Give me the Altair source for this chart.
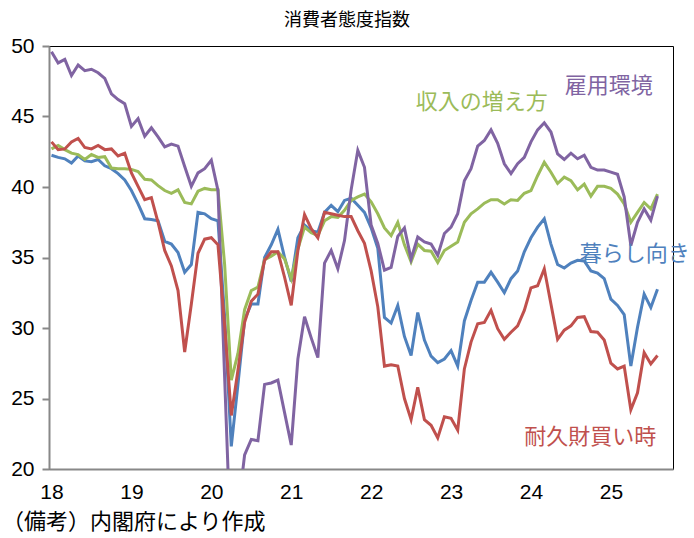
import json
import altair as alt
import pandas as pd

# ---- data (monthly, Jan 2018 = 0 ... Aug 2025 = 91) ----
year_labels = ["18", "19", "20", "21", "22", "23", "24", "25"]
year_ticks = [0, 12, 24, 36, 48, 60, 72, 84]

kurashi = [42.25, 42.1, 42.0, 41.7, 42.2, 41.85, 41.8, 41.95, 41.5, 41.3, 40.95, 40.5,
           39.75, 38.8, 37.75, 37.7, 37.6, 36.15, 35.95, 35.35, 33.95, 34.5, 38.2, 38.1,
           37.75, 37.6, 30.8, 21.6, 26.0, 30.6, 31.7, 31.7, 35.0, 35.9, 37.0, 35.0,
           33.3, 36.4, 37.3, 36.9, 36.8, 38.2, 38.7, 38.25, 39.05, 39.2, 38.7, 38.2,
           37.1, 35.65, 30.75, 30.35, 31.6, 29.4, 28.05, 31.1, 29.15, 28.0, 27.55, 27.8,
           28.4, 27.3, 30.5, 31.95, 33.25, 33.25, 33.95, 33.25, 32.5, 33.5, 34.05, 35.4,
           36.4, 37.15, 37.75, 35.95, 34.5, 34.25, 34.6, 34.8, 34.75, 34.05, 33.9, 33.5,
           32.05, 31.6, 30.95, 27.3, 30.05, 32.4, 31.45, 32.75]

shunyu = [42.7, 42.95, 42.65, 42.4, 42.3, 41.95, 42.3, 42.1, 42.15, 41.35, 41.3, 41.3,
          41.25, 41.1, 40.55, 40.5, 40.1, 39.75, 39.55, 39.8, 38.9, 38.8, 39.7, 39.9,
          39.8, 39.8, 34.5, 26.3, 28.2, 31.3, 32.65, 32.9, 34.85, 35.1, 35.4, 34.9,
          33.5, 35.6, 37.15, 36.75, 36.55, 37.6, 37.9, 37.85, 38.35, 39.05, 39.3, 39.5,
          38.95, 38.1, 37.1, 36.55, 37.5, 35.9, 34.7, 35.95, 35.5, 35.45, 34.65, 35.5,
          35.8, 36.1, 37.5, 38.1, 38.45, 38.85, 39.1, 39.1, 38.8, 39.1, 39.05, 39.55,
          39.75, 40.8, 41.75, 41.05, 40.25, 40.7, 40.45, 39.8, 40.2, 39.35, 40.05, 40.05,
          39.9, 39.5, 38.8, 37.5, 38.2, 38.9, 38.45, 39.5]

koyo = [49.6, 48.8, 49.05, 47.9, 48.65, 48.25, 48.35, 48.1, 47.7, 46.6, 46.2, 45.9,
        44.3, 44.85, 43.6, 44.2, 43.55, 42.85, 43.05, 42.9, 41.45, 40.05, 41.0, 41.3,
        41.9, 39.75, 26.5, 13.5, 17.0, 21.0, 22.1, 22.0, 26.0, 26.1, 26.3, 24.0,
        21.7, 27.8, 30.8, 29.3, 27.9, 34.6, 35.5, 34.2, 36.2, 39.8, 42.6, 41.4,
        37.3, 36.0, 34.1, 34.3, 36.5, 37.1, 34.9, 36.45, 36.1, 35.95, 35.15, 36.7,
        37.15, 38.1, 40.45, 41.3, 42.9, 43.3, 44.05, 43.1, 41.65, 40.95, 41.65, 42.1,
        43.2, 44.05, 44.55, 43.9, 42.35, 41.95, 42.4, 42.0, 42.25, 41.4, 41.2, 41.2,
        41.05, 40.9, 39.3, 35.85, 37.5, 38.45, 37.65, 39.35]

taikyu = [43.2, 42.65, 42.7, 43.2, 43.45, 42.8, 42.7, 42.95, 42.65, 42.7, 42.2, 42.4,
          41.0, 40.05, 39.1, 39.25, 37.5, 35.5, 34.4, 32.65, 28.3, 31.7, 35.3, 36.3,
          36.4, 35.9, 30.2, 23.8, 27.0, 30.4, 31.9, 32.4, 34.8, 35.4, 35.4, 33.6,
          31.6, 35.5, 38.05, 37.05, 36.4, 38.2, 38.1, 38.0, 37.9, 37.9, 36.9, 36.0,
          34.05, 31.5, 27.3, 27.4, 27.3, 25.0, 23.5, 25.8, 23.5, 23.1, 22.2, 23.7,
          23.6, 22.75, 27.1, 29.0, 30.3, 30.4, 31.25, 29.95, 29.2, 29.7, 30.15, 31.25,
          32.85, 33.0, 34.2, 31.7, 29.2, 29.85, 30.15, 30.75, 30.8, 29.75, 29.7, 29.15,
          27.5, 27.1, 27.3, 24.2, 25.4, 28.25, 27.45, 28.05]

series_names = ["暮らし向き", "収入の増え方", "雇用環境", "耐久財買い時"]
series_values = [kurashi, shunyu, koyo, taikyu]
series_colors = ["#4F81BD", "#9BBB59", "#8064A2", "#C0504D"]

# label anchor positions (data coordinates)
label_x = [87.6, 64.6, 83.7, 80.9]
label_y = [35.25, 46.03, 47.16, 22.27]

title_text = "消費者態度指数"
footer_text = "（備考）内閣府により作成"

rows = []
for name, vals in zip(series_names, series_values):
    for i, v in enumerate(vals):
        rows.append({"t": i, "v": v, "s": name})
df = pd.DataFrame(rows)
labels_df = pd.DataFrame({"s": series_names, "t": label_x, "v": label_y})

xscale = alt.Scale(domain=[-0.375, 93.33], nice=False, zero=False)
yscale = alt.Scale(domain=[20, 50], nice=False, zero=False)
cscale = alt.Scale(domain=series_names, range=series_colors)

cjk = "Noto Sans CJK JP"
num_font = "Liberation Sans"

x_axis = alt.Axis(values=year_ticks, labelExpr=f"{json.dumps(year_labels)}[round(datum.value/12)]",
                  ticks=False, grid=False, title=None, labelFont=num_font, labelFontSize=21,
                  labelColor="black", labelPadding=12, domainColor="#888888", domainWidth=2)
y_axis = alt.Axis(values=[20, 25, 30, 35, 40, 45, 50], grid=False, title=None,
                  labelFont=num_font, labelFontSize=21, labelColor="black", labelPadding=8,
                  tickSize=7, tickColor="#888888", tickWidth=2,
                  domainColor="#888888", domainWidth=2)

X = alt.X("t:Q", scale=xscale, axis=x_axis)
Y = alt.Y("v:Q", scale=yscale, axis=y_axis)

lines = alt.Chart(df).mark_line(strokeWidth=3, clip=True).encode(
    x=X, y=Y,
    color=alt.Color("s:N", scale=cscale, legend=None),
    order=alt.Order("t:Q"),
)

labels = alt.Chart(labels_df).mark_text(font=cjk, fontSize=22, align="center", baseline="middle").encode(
    x=X, y=Y,
    text="s:N",
    color=alt.Color("s:N", scale=cscale, legend=None),
)

footer = alt.Chart(pd.DataFrame({"txt": [footer_text]})).mark_text(
    font=cjk, fontSize=22, align="left", baseline="middle", color="black"
).encode(x=alt.value(-47), y=alt.value(476), text="txt:N")

chart = alt.layer(lines, labels, footer).properties(
    width=624, height=423,
    title=alt.TitleParams(title_text, font=cjk, fontSize=18, fontWeight="normal",
                          anchor="middle", dx=-14, offset=5, color="black"),
    autosize=alt.AutoSizeParams(type="none"),
    padding={"left": 49, "top": 46, "right": 21, "bottom": 69},
).configure(background="white", view=alt.ViewConfig(stroke="black", strokeWidth=1))

chart.save("out.html", embed_options={"renderer": "svg", "actions": False})
